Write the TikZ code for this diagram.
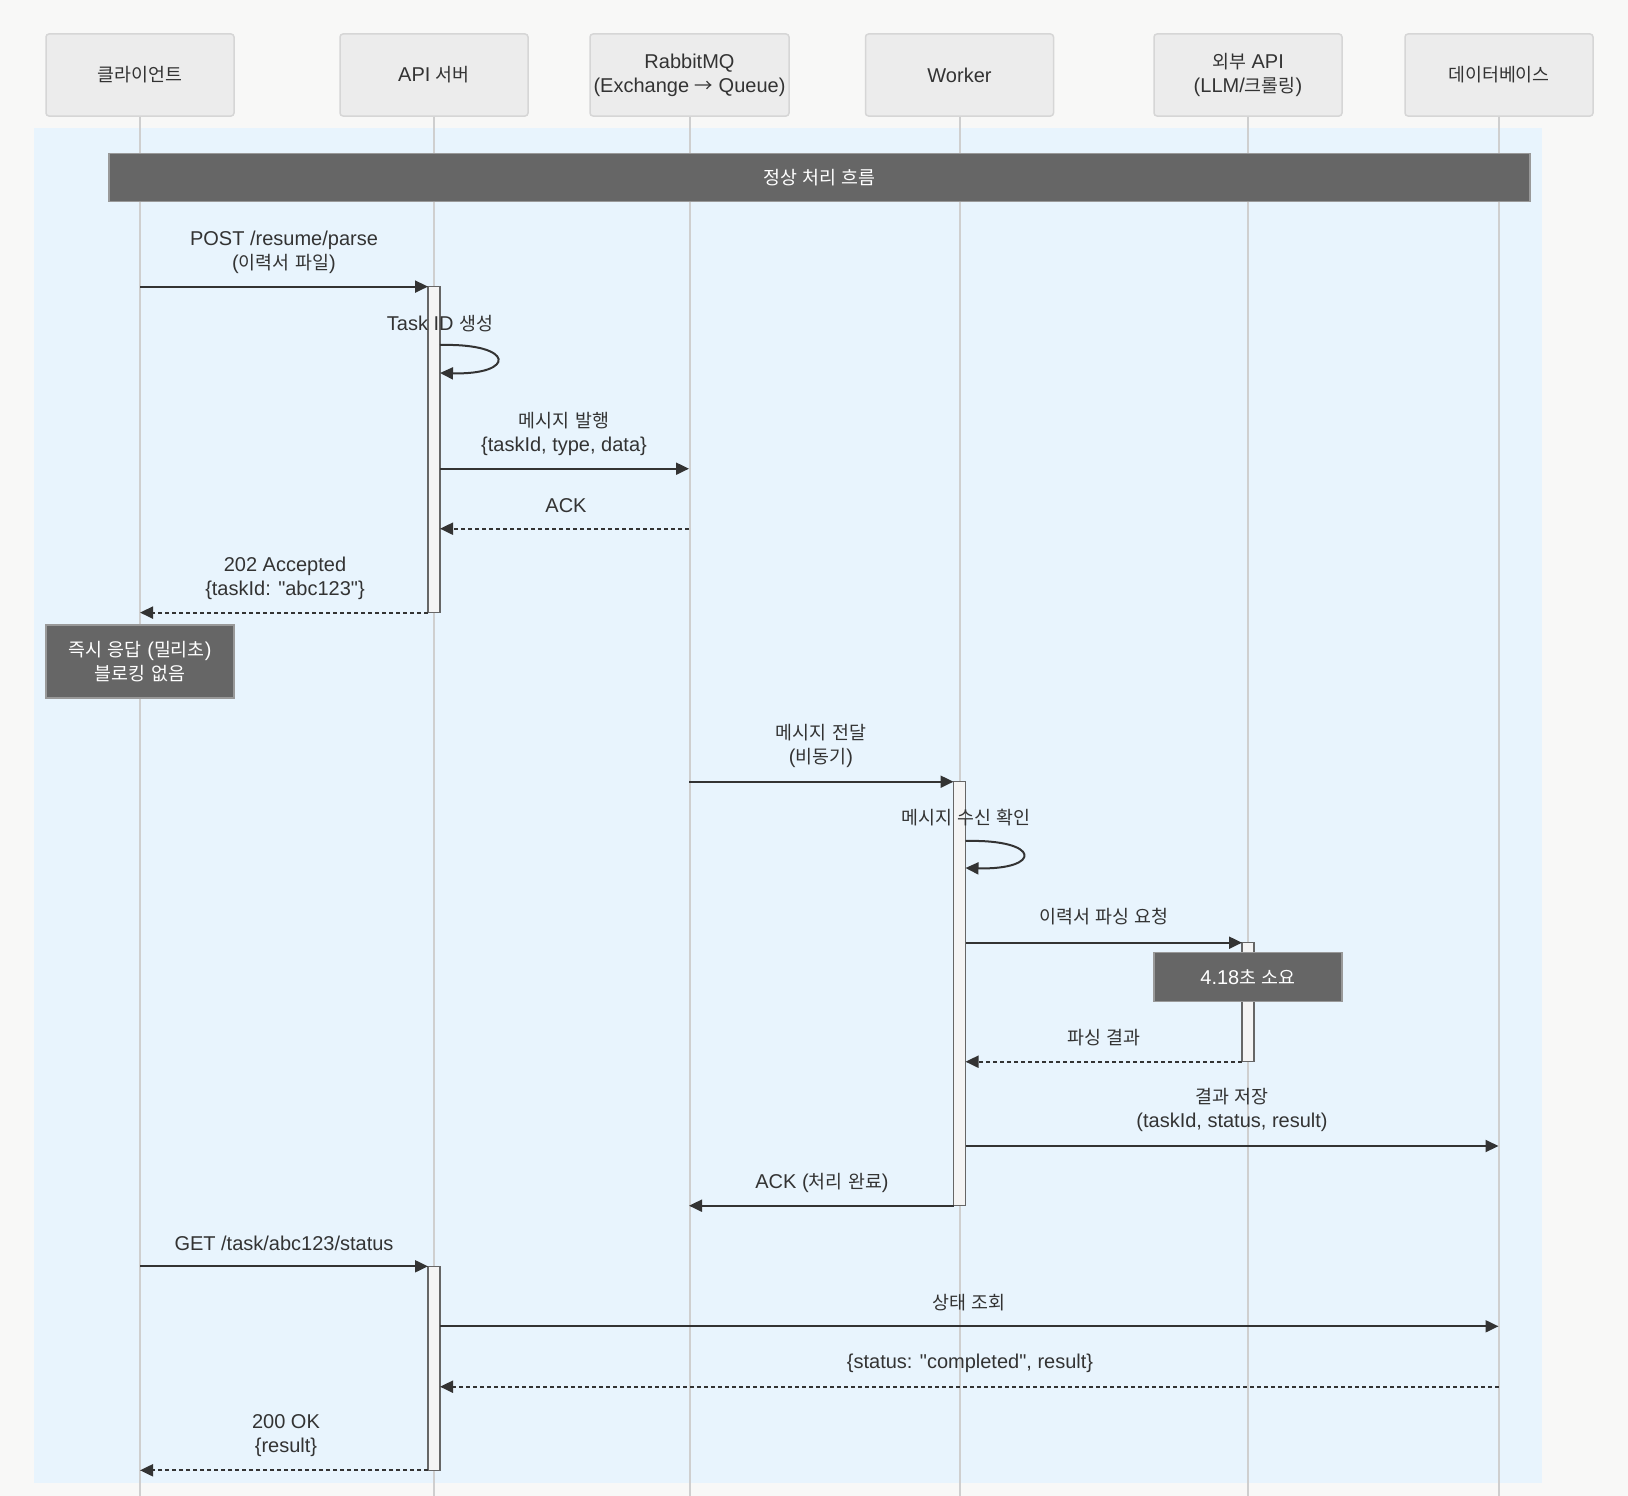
\documentclass[tikz,border=0pt]{standalone}
\usepackage{fontspec}
\usetikzlibrary{arrows.meta}
\setmainfont{Liberation Sans}[Ligatures=TeXOff]
\newfontfamily\krfont[Scale=0.92]{Noto Sans CJK KR}
\XeTeXinterchartokenstate=1
\newXeTeXintercharclass\hangulclass
\count255="AC00
\loop
\XeTeXcharclass\count255=\hangulclass
\ifnum\count255<"D7A3 \advance\count255 by 1 \repeat
\XeTeXcharclass"2192=\hangulclass
\XeTeXinterchartoks 0 \hangulclass = {\krfont}
\XeTeXinterchartoks 4095 \hangulclass = {\krfont}
\XeTeXinterchartoks \hangulclass 0 = {\rmfamily}
\XeTeXinterchartoks \hangulclass 4095 = {\rmfamily}
\definecolor{pagebg}{HTML}{F8F8F7}
\definecolor{loopbg}{HTML}{E8F4FD}
\definecolor{boxfill}{HTML}{ECECEC}
\definecolor{boxline}{HTML}{D6D6D6}
\definecolor{lifeline}{HTML}{CFCFCF}
\definecolor{ink}{HTML}{333333}
\definecolor{notefill}{HTML}{666666}
\definecolor{noteline}{HTML}{999999}
\definecolor{actfill}{HTML}{F4F4F4}
\definecolor{actline}{HTML}{666666}

\begin{document}
\begin{tikzpicture}[x=1pt,y=-1pt,
  every node/.style={font=\fontsize{20}{24}\selectfont, text=ink},
  actor/.style={draw=boxline, fill=boxfill, line width=1.5pt, rounded corners=3pt,
    minimum width=188pt, minimum height=82pt, align=center, inner sep=0pt},
  life/.style={draw=lifeline, line width=2pt},
  actbar/.style={draw=actline, fill=actfill, line width=1.3pt, minimum width=12pt,
    inner sep=0pt, outer sep=0pt, anchor=north},
  note/.style={draw=noteline, fill=notefill, line width=1.5pt, text=white,
    align=center, inner sep=0pt},
  lbl/.style={align=center, inner sep=0pt},
  msg/.style={draw=ink, line width=2pt, -{Triangle[length=13pt,width=12pt]}},
  reply/.style={msg, dash pattern=on 4pt off 3pt}]
\useasboundingbox[fill=pagebg] (0,0) rectangle (1628,1496);
\fill[loopbg] (34,128) rectangle (1542,1483);

\node[actor] (cli) at (140,75) {클라이언트};
\node[actor] (api) at (434,75) {API 서버};
\node[actor, minimum width=199pt] (mq) at (689.5,75) {RabbitMQ\\(Exchange → Queue)};
\node[actor] (wrk) at (959.5,75) {Worker};
\node[actor] (ext) at (1248,75) {외부 API\\(LLM/크롤링)};
\node[actor] (db) at (1499,75) {데이터베이스};

\foreach \p in {cli,api,mq,wrk,ext,db}{
  \coordinate (\p-end) at (\p.south |- 0,1496);
  \draw[life] (\p.south) -- (\p-end);
}

\node[note, minimum width=1421pt, minimum height=48pt] (sect) at (819.5,177.5) {정상 처리 흐름};

\node[actbar, minimum height=326pt] (a1) at (434,286.6) {};
\node[actbar, minimum height=424pt] (a2) at (959.5,781.7) {};
\node[actbar, minimum height=119pt] (a3) at (1248,942.7) {};
\node[actbar, minimum height=204pt] (a4) at (434,1266.3) {};

\coordinate (c1) at (140,286.6);
\coordinate (c2) at (140,612.6);
\coordinate (c3) at (140,1266.3);
\coordinate (c4) at (140,1470.3);
\coordinate (q1) at (689,468.7);
\coordinate (q2) at (689,528.7);
\coordinate (q3) at (689,781.7);
\coordinate (q4) at (689,1205.7);
\coordinate (d1) at (1498.5,1146);
\coordinate (d2) at (1498.5,1326.3);
\coordinate (d3) at (1498.5,1386.7);

\draw[msg] (c1) -- (a1.north west);
\node[lbl] (l1) at (284,252) {POST /resume/parse\\(이력서 파일)};

\draw[msg] (a1.east |- 0,345) .. controls (516,343) and (516,375) .. (a1.east |- 0,373);
\node[lbl] (l2) at (440,324) {Task ID 생성};

\draw[msg] (a1.east |- q1) -- (q1);
\node[lbl] (l3) at (564,434) {메시지 발행\\\{taskId, type, data\}};

\draw[reply] (q2) -- (a1.east |- q2);
\node[lbl] (l4) at (566,506) {ACK};

\draw[reply] (a1.south west) -- (c2);
\node[lbl] (l5) at (285,578) {202 Accepted\\\{taskId: "abc123"\}};

\node[note, minimum width=188pt, minimum height=73pt] (n1) at (140,661.5) {즉시 응답 (밀리초)\\블로킹 없음};

\draw[msg] (q3) -- (a2.north west);
\node[lbl] (l6) at (821,746) {메시지 전달\\(비동기)};

\draw[msg] (a2.east |- 0,841) .. controls (1042,839) and (1042,870) .. (a2.east |- 0,868);
\node[lbl] (l7) at (966,818) {메시지 수신 확인};

\draw[msg] (a2.east |- a3.north) -- (a3.north west);
\node[lbl] (l8) at (1104,917) {이력서 파싱 요청};

\node[note, minimum width=188pt, minimum height=49pt] (n2) at (1248,977) {4.18초 소요};

\draw[reply] (a3.south west) -- (a2.east |- a3.south);
\node[lbl] (l9) at (1104,1038) {파싱 결과};

\draw[msg] (a2.east |- d1) -- (d1);
\node[lbl] (l10) at (1232,1110) {결과 저장\\(taskId, status, result)};

\draw[msg] (a2.south west) -- (q4);
\node[lbl] (l11) at (822,1183) {ACK (처리 완료)};

\draw[msg] (c3) -- (a4.north west);
\node[lbl] (l12) at (284,1243) {GET /task/abc123/status};

\draw[msg] (a4.east |- d2) -- (d2);
\node[lbl] (l13) at (969,1303) {상태 조회};

\draw[reply] (d3) -- (a4.east |- d3);
\node[lbl] (l14) at (970,1363) {\{status: "completed", result\}};

\draw[reply] (a4.south west) -- (c4);
\node[lbl] (l15) at (286,1436) {200 OK\\\{result\}};
\end{tikzpicture}
\end{document}
